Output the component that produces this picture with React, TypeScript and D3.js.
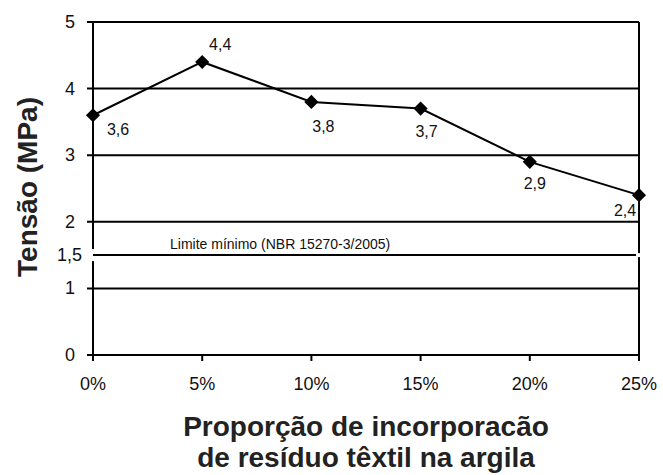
import { useEffect, useRef } from 'react';
import * as d3 from 'd3';

const categories = ['0%', '5%', '10%', '15%', '20%', '25%'];
const tensao = [3.6, 4.4, 3.8, 3.7, 2.9, 2.4];
const valueLabels = ['3,6', '4,4', '3,8', '3,7', '2,9', '2,4'];
const yTicks = [0, 1, 2, 3, 4, 5];
const limitValue = 1.5;
const limitTickLabel = '1,5';
const limitText = 'Limite mínimo (NBR 15270-3/2005)';
const yTitle = 'Tensão (MPa)';
const xTitle = ['Proporção de incorporacão', 'de resíduo têxtil na argila'];

// label placement relative to each point (Excel kept them where it liked)
const labelOffsets: [number, number][] = [
  [25, 14], [18, -17], [12, 25], [6, 23], [5, 22], [-14, 15],
];

const W = 663;
const H = 475;
const FONT = "'Liberation Sans', Arial, sans-serif";

export default function App() {
  const svgRef = useRef<SVGSVGElement>(null);

  useEffect(() => {
    if (!svgRef.current) return;
    const svg = d3.select(svgRef.current);
    svg.selectAll('*').remove();

    const left = 93, right = 639, top = 22, bottom = 355;

    const x = d3.scalePoint<string>().domain(categories).range([left, right]).padding(0);
    const y = d3.scaleLinear().domain([0, 5]).range([bottom, top]);

    svg.append('rect').attr('width', W).attr('height', H).attr('fill', '#fff');

    // gridlines + y ticks
    yTicks.filter(t => t > 0).forEach(t => {
      svg.append('line')
        .attr('x1', left - 6).attr('x2', right)
        .attr('y1', y(t)).attr('y2', y(t))
        .attr('stroke', '#000').attr('stroke-width', 2);
    });

    // y axis
    svg.append('line')
      .attr('x1', left).attr('x2', left).attr('y1', top).attr('y2', bottom + 6)
      .attr('stroke', '#000').attr('stroke-width', 2);
    // right border
    svg.append('line')
      .attr('x1', right).attr('x2', right).attr('y1', top).attr('y2', bottom + 6)
      .attr('stroke', '#000').attr('stroke-width', 2);
    // x axis
    svg.append('line')
      .attr('x1', left - 6).attr('x2', right).attr('y1', bottom).attr('y2', bottom)
      .attr('stroke', '#000').attr('stroke-width', 2);

    // x ticks
    categories.forEach(c => {
      svg.append('line')
        .attr('x1', x(c)!).attr('x2', x(c)!).attr('y1', bottom).attr('y2', bottom + 6)
        .attr('stroke', '#000').attr('stroke-width', 2);
    });

    // y tick labels
    svg.append('g').selectAll('text')
      .data(yTicks)
      .enter().append('text')
      .attr('x', 75)
      .attr('y', d => y(d))
      .attr('text-anchor', 'end')
      .attr('dominant-baseline', 'central')
      .style('font-family', FONT)
      .style('font-size', '18px')
      .style('fill', '#111')
      .text(d => String(d));

    // x tick labels
    svg.append('g').selectAll('text')
      .data(categories)
      .enter().append('text')
      .attr('x', d => x(d)!)
      .attr('y', 384)
      .attr('text-anchor', 'middle')
      .attr('dominant-baseline', 'central')
      .style('font-family', FONT)
      .style('font-size', '18px')
      .style('fill', '#111')
      .text(d => d);

    // minimum limit line, with its white halo cutting the axes
    const yl = y(limitValue);
    svg.append('line')
      .attr('x1', left - 4).attr('x2', left + 4).attr('y1', yl).attr('y2', yl)
      .attr('stroke', '#fff').attr('stroke-width', 12);
    svg.append('line')
      .attr('x1', right - 3).attr('x2', right + 3).attr('y1', yl).attr('y2', yl)
      .attr('stroke', '#fff').attr('stroke-width', 4);
    svg.append('line')
      .attr('x1', left).attr('x2', right - 3).attr('y1', yl).attr('y2', yl)
      .attr('stroke', '#000').attr('stroke-width', 2);
    svg.append('text')
      .attr('x', 82).attr('y', yl)
      .attr('text-anchor', 'end')
      .attr('dominant-baseline', 'central')
      .style('font-family', FONT)
      .style('font-size', '18px')
      .style('fill', '#111')
      .text(limitTickLabel);
    svg.append('text')
      .attr('x', 170).attr('y', yl - 11)
      .attr('dominant-baseline', 'central')
      .style('font-family', FONT)
      .style('font-size', '14px')
      .style('fill', '#111')
      .text(limitText);

    // series line
    const line = d3.line<number>()
      .x((_, i) => x(categories[i])!)
      .y(d => y(d));
    svg.append('path')
      .datum(tensao)
      .attr('d', line)
      .attr('fill', 'none')
      .attr('stroke', '#000')
      .attr('stroke-width', 2);

    // diamond markers
    const diamond = d3.symbol().type(d3.symbolSquare).size(100);
    svg.append('g').selectAll('path')
      .data(tensao)
      .enter().append('path')
      .attr('d', diamond)
      .attr('transform', (d, i) => `translate(${x(categories[i])},${y(d)}) rotate(45)`)
      .attr('fill', '#000');

    // value labels
    svg.append('g').selectAll('text')
      .data(tensao)
      .enter().append('text')
      .attr('x', (_, i) => x(categories[i])! + labelOffsets[i][0])
      .attr('y', (d, i) => y(d) + labelOffsets[i][1])
      .attr('text-anchor', 'middle')
      .attr('dominant-baseline', 'central')
      .style('font-family', FONT)
      .style('font-size', '16px')
      .style('fill', '#111')
      .text((_, i) => valueLabels[i]);

    // axis titles
    svg.append('text')
      .attr('transform', `translate(37,187) rotate(-90)`)
      .attr('text-anchor', 'middle')
      .style('font-family', FONT)
      .style('font-size', '28px')
      .style('font-weight', 'bold')
      .style('fill', '#222')
      .text(yTitle);

    xTitle.forEach((t, i) => {
      svg.append('text')
        .attr('x', 366)
        .attr('y', 436 + i * 31)
        .attr('text-anchor', 'middle')
        .style('font-family', FONT)
        .style('font-size', '28px')
        .style('font-weight', 'bold')
        .style('fill', '#222')
        .text(t);
    });
  }, []);

  return (
    <svg
      ref={svgRef}
      width={W}
      height={H}
      style={{ position: 'absolute', left: 0, top: 0, background: '#fff' }}
    />
  );
}
